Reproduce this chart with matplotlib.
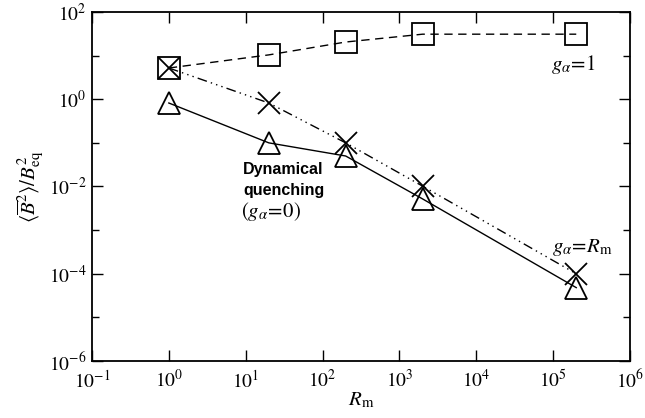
import numpy as np
import matplotlib
matplotlib.use("Agg")
import matplotlib.pyplot as plt
from matplotlib.ticker import FixedLocator, NullFormatter

plt.rcParams['font.family'] = 'STIXGeneral'
plt.rcParams['mathtext.fontset'] = 'stix'

# magnetic Reynolds numbers
rm = [1, 20, 200, 2000, 2e5]

# saturation energy for the three cases
b2_g1 = [5.2, 10.4, 20.5, 31, 31]          # g_alpha = 1 (squares)
b2_grm = [5.2, 0.82, 0.10, 0.0102, 1.0e-4]  # g_alpha = R_m (crosses)
b2_g0 = [0.82, 0.10, 0.050, 0.0052, 4.8e-5] # dynamical quenching (triangles)

# axis ticks
x_ticks = [1e-1, 1e0, 1e1, 1e2, 1e3, 1e4, 1e5, 1e6]
y_ticks = [1e-6, 1e-4, 1e-2, 1e0, 1e2]
y_minor = [1e-5, 1e-3, 1e-1, 1e1]

fig = plt.figure(figsize=(6.45, 4.18), dpi=100)
ax = fig.add_axes([0.1426, 0.1364, 0.8341, 0.8349])

mk = dict(markersize=16, markerfacecolor='none', markeredgecolor='black',
          markeredgewidth=1.3, color='black', linewidth=1.0)

ax.plot(rm, b2_g1, marker='s', linestyle=(0, (6, 4)), **mk)
ax.plot(rm, b2_grm, marker='x', dashes=(7, 3, 1, 3, 1, 3, 1, 3), **mk)
ax.plot(rm, b2_g0, marker='^', linestyle='-', **mk)

ax.set_xscale('log')
ax.set_yscale('log')
ax.set_xlim(1e-1, 1e6)
ax.set_ylim(1e-6, 1e2)

ax.xaxis.set_major_locator(FixedLocator(x_ticks))
ax.xaxis.set_minor_locator(FixedLocator([]))
ax.yaxis.set_major_locator(FixedLocator(y_ticks))
ax.yaxis.set_minor_locator(FixedLocator(y_minor))
ax.yaxis.set_minor_formatter(NullFormatter())

ax.tick_params(which='both', direction='in', top=True, right=True,
               width=1.0, labelsize=14)
ax.tick_params(axis='y', pad=4)
ax.tick_params(axis='x', pad=6)
ax.tick_params(which='major', length=8)
ax.tick_params(which='minor', length=5)
for s in ax.spines.values():
    s.set_linewidth(1.3)

ax.set_xlabel(r'$R_\mathrm{m}$', fontsize=15, labelpad=-1)
ax.set_ylabel(r'$\langle\overline{B}^2\rangle/B^2_\mathrm{eq}$', fontsize=15, labelpad=2)

def px(x, y):
    # pixel position (from top-left) -> axes fraction
    return (x - 92) / 538.0, 1 - (y - 12) / 349.0

ax.text(*px(243, 170), 'Dynamical', transform=ax.transAxes,
        fontfamily='Liberation Sans', fontweight='bold', fontsize=11.5,
        ha='left', va='center')
ax.text(*px(243, 191), 'quenching', transform=ax.transAxes,
        fontfamily='Liberation Sans', fontweight='bold', fontsize=11.5,
        ha='left', va='center')
ax.text(*px(241, 212), r'$(g_\alpha\!=\!0)$', transform=ax.transAxes,
        fontsize=15, ha='left', va='center')

ax.text(*px(573, 65), r'$g_\alpha\!=\!1$', transform=ax.transAxes,
        fontsize=15, ha='center', va='center')
ax.text(*px(582, 248), r'$g_\alpha\!=\!R_\mathrm{m}$', transform=ax.transAxes,
        fontsize=15, ha='center', va='center')

fig.savefig('out.png', dpi=100)
